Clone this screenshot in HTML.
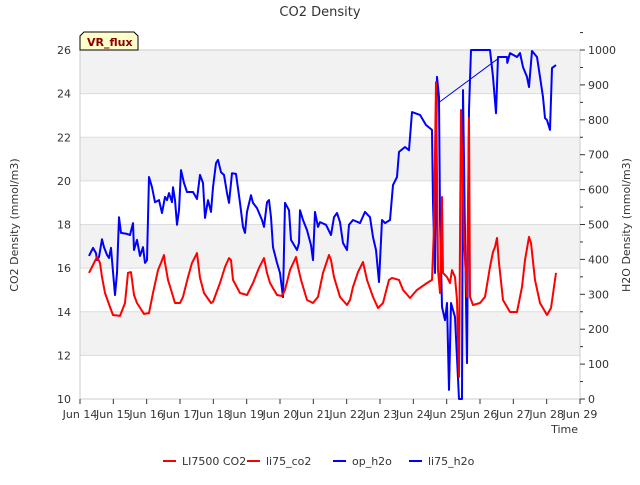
<!DOCTYPE html>
<html><head><meta charset="utf-8"><style>
body{margin:0;background:#fff;font-family:"Liberation Sans","DejaVu Sans",sans-serif}
svg text{font-family:"DejaVu Sans","Liberation Sans",sans-serif}
</style></head><body>
<svg id="chart" width="640" height="480" viewBox="0 0 640 480" xmlns="http://www.w3.org/2000/svg">
<g id="bands"></g><g id="axes"></g><g id="series"></g><g id="legend"></g>
</svg>
<script>
const xTicks=[14,15,16,17,18,19,20,21,22,23,24,25,26,27,28,29];
const leftTicks=[10,12,14,16,18,20,22,24,26];
const rightTicks=[0,100,200,300,400,500,600,700,800,900,1000];
const co2Days=[14.27,14.51,14.60,14.66,14.75,14.90,14.99,15.20,15.35,15.44,15.53,15.62,15.71,15.92,16.07,16.19,16.34,16.43,16.52,16.55,16.64,16.76,16.85,17.00,17.09,17.24,17.36,17.51,17.60,17.72,17.93,17.99,18.20,18.35,18.47,18.53,18.59,18.80,19.01,19.19,19.37,19.52,19.61,19.70,19.91,20.06,20.15,20.30,20.48,20.54,20.63,20.81,20.99,21.14,21.29,21.47,21.53,21.62,21.80,22.01,22.10,22.19,22.34,22.49,22.61,22.79,22.94,23.09,23.27,23.36,23.57,23.69,23.90,24.11,24.41,24.56,24.62,24.68,24.74,24.80,24.86,24.89,25.01,25.10,25.16,25.25,25.31,25.37,25.43,25.52,25.61,25.67,25.70,25.79,26.00,26.15,26.30,26.39,26.45,26.51,26.57,26.69,26.90,27.11,27.26,27.35,27.47,27.53,27.65,27.80,28.01,28.13,28.28];
const co2Values=[15.78,16.51,16.24,15.59,14.86,14.22,13.85,13.81,14.40,15.78,15.82,14.77,14.40,13.90,13.94,14.86,15.91,16.24,16.60,16.24,15.46,14.86,14.40,14.40,14.68,15.59,16.24,16.69,15.55,14.86,14.40,14.45,15.32,16.05,16.46,16.37,15.46,14.86,14.77,15.32,16.01,16.46,15.78,15.32,14.77,14.72,15.00,15.91,16.51,16.05,15.46,14.54,14.40,14.68,15.78,16.60,16.37,15.59,14.68,14.31,14.54,15.14,15.82,16.28,15.46,14.68,14.17,14.40,15.46,15.55,15.46,15.00,14.63,15.00,15.32,15.46,17.84,24.53,15.91,14.86,19.26,15.78,15.59,15.32,15.91,15.59,14.54,11.01,23.25,17.29,14.68,22.88,14.68,14.31,14.40,14.68,16.05,16.74,16.97,17.38,16.24,14.54,13.99,13.99,15.14,16.37,17.43,17.15,15.46,14.40,13.85,14.17,15.78];
const h2oDays=[14.27,14.39,14.48,14.51,14.57,14.66,14.72,14.81,14.87,14.93,14.96,15.05,15.11,15.17,15.23,15.41,15.50,15.59,15.62,15.71,15.80,15.89,15.95,16.01,16.07,16.16,16.25,16.37,16.46,16.55,16.61,16.67,16.76,16.79,16.85,16.91,16.97,17.03,17.12,17.21,17.39,17.51,17.60,17.69,17.75,17.84,17.93,17.99,18.08,18.14,18.23,18.32,18.41,18.47,18.56,18.68,18.80,18.89,18.95,19.01,19.13,19.19,19.31,19.46,19.52,19.61,19.67,19.73,19.79,19.91,20.00,20.09,20.15,20.27,20.33,20.51,20.57,20.60,20.69,20.81,20.93,20.99,21.05,21.14,21.20,21.38,21.53,21.62,21.71,21.80,21.89,22.01,22.07,22.19,22.40,22.55,22.70,22.79,22.88,22.97,23.06,23.15,23.30,23.39,23.51,23.57,23.75,23.87,23.96,24.20,24.38,24.56,24.59,24.65,24.71,24.77,24.80,24.86,24.95,25.01,25.07,25.13,25.25,25.37,25.46,25.49,25.55,25.61,25.67,25.73,26.30,26.39,26.48,26.54,26.81,26.82,26.90,27.11,27.20,27.29,27.41,27.47,27.56,27.71,27.80,27.89,27.95,28.01,28.10,28.16,28.28];
const h2oValues=[410,433,418,398,407,458,435,413,404,433,398,298,361,521,476,473,470,504,427,456,410,435,390,398,636,607,564,570,533,579,570,590,564,607,570,499,541,656,619,593,593,573,642,619,519,570,536,607,676,685,650,642,590,562,647,645,562,493,476,536,584,562,547,513,493,564,570,521,435,390,361,292,562,541,456,427,447,541,513,484,441,398,536,493,507,499,470,521,533,507,447,427,499,513,504,536,521,464,427,335,513,504,513,613,636,708,722,713,822,814,785,771,562,361,923,865,521,264,226,275,26,275,235,0,0,885,464,103,828,1000,1000,923,819,980,980,963,991,980,991,951,923,894,997,980,923,865,805,799,771,948,957];
const gapDays=[24.77,26.54];
const gapValues=[850,975];

const NS="http://www.w3.org/2000/svg";
const X0=80,X1=580,Y0=399,Y1=50;
const xs=d=>X0+(d-14)*(X1-X0)/15;
const yl=v=>Y0-(v-10)*(Y0-Y1)/16;
const yr=v=>Y0-v*(Y0-Y1)/1000;
function mk(tag,attrs,parent,txt){const e=document.createElementNS(NS,tag);for(const k in attrs)e.setAttribute(k,attrs[k]);if(txt!==undefined)e.textContent=txt;parent.appendChild(e);return e;}
const bands=document.getElementById('bands'),axes=document.getElementById('axes'),ser=document.getElementById('series'),leg=document.getElementById('legend'),svg=document.getElementById('chart');

for(let v=14;v<=26;v+=4){
  const b=mk('rect',{x:X0,y:yl(v),width:X1-X0,height:yl(v-2)-yl(v),fill:'#f2f2f2'},bands);
  
  
}
leftTicks.forEach(v=>{
  const g=mk('line',{x1:X0,x2:X1,y1:yl(v),y2:yl(v),stroke:'#dcdcdc','stroke-width':1},axes);
  
  
  const t=mk('text',{x:X0-9,y:yl(v)+4,'text-anchor':'end','font-size':11,fill:'#333'},axes,String(v));
  
  
});
mk('rect',{x:X0,y:Y1,width:X1-X0,height:Y0-Y1,fill:'none',stroke:'#cccccc'},axes);
rightTicks.forEach(v=>{
  mk('line',{x1:X1,x2:X1+5,y1:yr(v),y2:yr(v),stroke:'#333'},axes);
  mk('line',{x1:X1,x2:X1+3,y1:yr(v+50),y2:yr(v+50),stroke:'#333'},axes);
  const t=mk('text',{x:X1+8,y:yr(v)+4,'font-size':11,fill:'#333'},axes,String(v));
  
  
});
xTicks.forEach(d=>{
  mk('line',{x1:xs(d),x2:xs(d),y1:Y0,y2:Y0+5,stroke:'#333'},axes);
  const t=mk('text',{x:xs(d),y:418,'text-anchor':'middle','font-size':11,fill:'#333'},axes,'Jun '+d);
  
  
});
let t;
t=mk('text',{x:320,y:16,'text-anchor':'middle','font-size':13,fill:'#333'},svg,'CO2 Density');

t=mk('text',{x:578,y:433,'text-anchor':'end','font-size':11,fill:'#333'},svg,'Time');

t=mk('text',{x:18,y:225,'text-anchor':'middle','font-size':11,fill:'#333',transform:'rotate(-90 18 225)'},svg,'CO2 Density (mmol/m3)');

t=mk('text',{x:630,y:225,'text-anchor':'middle','font-size':11,fill:'#333',transform:'rotate(-90 630 225)'},svg,'H2O Density (mmol/m3)');


function path(days,vals,yf,color,w,name){
  const d=days.map((x,i)=>(i?'L':'M')+xs(x).toFixed(1)+','+yf(vals[i]).toFixed(1)).join('');
  const p=mk('path',{d:d,fill:'none',stroke:color,'stroke-width':w,'stroke-linejoin':'round'},ser);
  
  
}
path(gapDays,gapValues,yr,'#0000ff',1,'h2o-gap-line');
path(h2oDays,h2oValues,yr,'#0000ff',2,'op-h2o-line');
path(co2Days,co2Values,yl,'#ff0000',2,'li7500-co2-line');

const vb=mk('g',{},svg);


mk('path',{d:'M80,50 L80,36 L84,32 L134,32 L138,36 L138,50 Z',fill:'#ffffcc',stroke:'#000','stroke-width':1},vb);
mk('text',{x:87,y:46,'font-size':11,'font-weight':'bold',fill:'#8b0000'},vb,'VR_flux');

const legItems=[['LI7500 CO2','#ff0000',163],['li75_co2','#ff0000',247],['op_h2o','#0000ff',333],['li75_h2o','#0000ff',409]];
legItems.forEach(it=>{
  const g=mk('g',{},leg);
  
  
  mk('line',{x1:it[2],x2:it[2]+13,y1:461,y2:461,stroke:it[1],'stroke-width':2},g);
  mk('text',{x:it[2]+19,y:465,'font-size':11,fill:'#333'},g,it[0]);
});
</script>
</body></html>
